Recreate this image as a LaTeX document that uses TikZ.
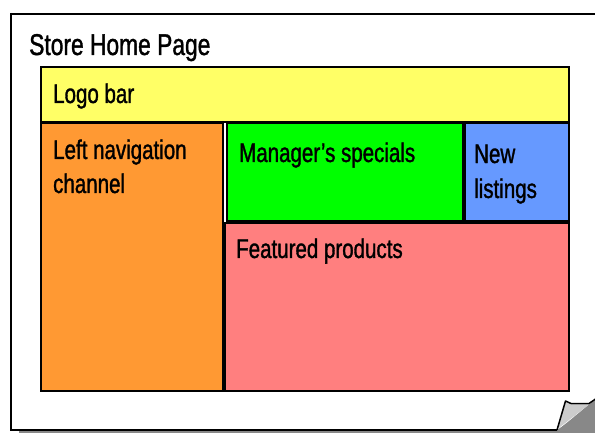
\documentclass[tikz,border=0pt]{standalone}
\usepackage{fontspec}
\setmainfont{Liberation Sans}[FakeStretch=0.76, FakeBold=1.2]
\definecolor{logoY}{HTML}{FFFF66}
\definecolor{navO}{HTML}{FF9933}
\definecolor{specG}{HTML}{00FF00}
\definecolor{newB}{HTML}{6699FF}
\definecolor{featP}{HTML}{FF7F7F}
\definecolor{curlL}{HTML}{CCCCCC}
\definecolor{curlD}{HTML}{888888}
\tikzset{
  region/.style={draw=black, line width=2pt, rectangle, inner sep=0pt, outer sep=0pt, anchor=north west,
    append after command={
      \pgfextra{\draw[white, line width=0.8pt] ([shift={(1.6,1.6)}]\tikzlastnode.north west) rectangle ([shift={(-1.6,-1.6)}]\tikzlastnode.south east);}}},
  lbl/.style={anchor=base west, inner sep=0pt, font=\fontsize{27}{31}\selectfont, align=left},
  ttl/.style={anchor=base west, inner sep=0pt, font=\fontsize{30}{34}\selectfont},
}
\begin{document}
\begin{tikzpicture}[x=1pt, y=-1pt]
\useasboundingbox (0,0) rectangle (595,433);
\clip (0,0) rectangle (595,433);
% shadow
\fill[curlD] (19,20) rectangle (610,440);
% page
\fill[white] (11,14) -- (610,14) -- (610,392) -- (557,430) -- (11,430) -- cycle;
\draw[black, line width=2pt] (11,14) -- (600,14);
\draw[black, line width=2pt] (11,13) -- (11,430) -- (557,430);
% curl
\fill[curlD] (557,431) -- (598,397) -- (598,436) -- (557,436) -- cycle;
\fill[curlL] (557.5,429) -- (565.5,402) -- (571,404.5) -- (589,404.5) -- (596,399) -- cycle;
\draw[black, line width=1.5pt, line join=round] (557,430) -- (565.5,401) -- (571,403.5) -- (589,403.5) -- (597,398);

\node[ttl] (title) at (29,55) {Store Home Page};

\node[region, fill=logoY, minimum width=528, minimum height=55] (logo) at (41,67) {};
\node[region, fill=navO, minimum width=182, minimum height=268] (nav) at (41,123) {};
\node[region, fill=specG, minimum width=236, minimum height=98] (spec) at (227,123) {};
\node[region, fill=newB, minimum width=104, minimum height=98] (new) at (465,123) {};
\node[region, fill=featP, minimum width=344, minimum height=168] (feat) at (225,223) {};

\node[lbl] (tlogo) at (53,103) {Logo bar};
\node[lbl] (tnav) at (53,193) {Left navigation\\[3pt]channel};
\node[lbl] (tspec) at (239,162) {Manager’s specials};
\node[lbl] (tnew) at (474,198) {New\\[4pt]listings};
\node[lbl] (tfeat) at (236,258) {Featured products};
\end{tikzpicture}
\end{document}
